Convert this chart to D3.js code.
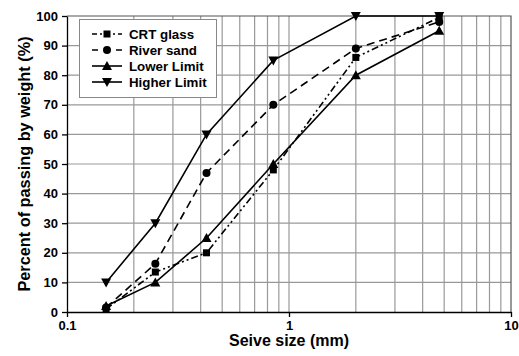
<!DOCTYPE html>
<html>
<head>
<meta charset="utf-8">
<script src="https://cdn.jsdelivr.net/npm/d3@7"></script>
<style>
  html, body { margin: 0; padding: 0; background: #fff; }
  svg { display: block; font-family: "Liberation Sans", Arial, sans-serif; }
</style>
</head>
<body>
<svg id="chart" width="519" height="356"></svg>
<script>
// Sieve sizes (mm) and cumulative percent passing
const sieveSizes = [0.15, 0.25, 0.425, 0.85, 2.0, 4.75];
const crtGlass    = [1, 13.5, 20, 48, 86, 99.5];
const riverSand   = [1.5, 16.3, 47, 70, 89, 98];
const lowerLimit  = [2, 10, 25, 50, 80, 95];
const higherLimit = [10, 30, 60, 85, 100, 100];

const seriesNames = ["CRT glass", "River sand", "Lower Limit", "Higher Limit"];
const xTickValues = [0.1, 1, 10];
const xTickLabels = ["0.1", "1", "10"];
const yTickValues = [0, 10, 20, 30, 40, 50, 60, 70, 80, 90, 100];

const series = [
  { name: seriesNames[0], values: crtGlass,    dash: "7,3,2,3,2,3", marker: "square" },
  { name: seriesNames[1], values: riverSand,   dash: "8,5",          marker: "circle" },
  { name: seriesNames[2], values: lowerLimit,  dash: null,           marker: "triUp" },
  { name: seriesNames[3], values: higherLimit, dash: null,           marker: "triDown" }
];

const svg = d3.select("#chart");
const margin = { left: 67, right: 8, top: 16, bottom: 44 };
const W = 519, H = 356;
const x = d3.scaleLog().domain([0.1, 10]).range([margin.left, W - margin.right]);
const y = d3.scaleLinear().domain([0, 100]).range([H - margin.bottom, margin.top]);

// minor vertical grid (log decades)
const minor = [];
for (const d of [0.1, 1]) for (let k = 2; k <= 9; k++) minor.push(d * k);
svg.append("g").selectAll("line").data(minor.concat([1])).join("line")
  .attr("x1", d => x(d)).attr("x2", d => x(d))
  .attr("y1", y(0)).attr("y2", y(100))
  .attr("stroke", "#999").attr("stroke-width", 1.2);

// horizontal grid
svg.append("g").selectAll("line").data(yTickValues.slice(1, -1)).join("line")
  .attr("x1", x(0.1)).attr("x2", x(10))
  .attr("y1", d => y(d)).attr("y2", d => y(d))
  .attr("stroke", "#999").attr("stroke-width", 1.2);

// plot frame: top & right
svg.append("path")
  .attr("d", `M${x(0.1)},${y(100)}H${x(10)}V${y(0)}`)
  .attr("fill", "none").attr("stroke", "#555").attr("stroke-width", 1.2);

// axes
const xAxis = d3.axisBottom(x).tickValues(xTickValues)
  .tickFormat((d, i) => xTickLabels[i]).tickSize(5).tickSizeOuter(0);
const gx = svg.append("g").attr("transform", `translate(0,${y(0)})`).call(xAxis);
const yAxis = d3.axisLeft(y).tickValues(yTickValues).tickSize(5).tickSizeOuter(0);
const gy = svg.append("g").attr("transform", `translate(${x(0.1)},0)`).call(yAxis);
[gx, gy].forEach(g => {
  g.selectAll("path, line").attr("stroke", "#000").attr("stroke-width", 1.3);
  g.selectAll("text").attr("fill", "#000").style("font-size", "13px")
    .style("font-weight", "bold").style("font-family", "'Liberation Sans', Arial, sans-serif");
});
gx.selectAll("text").attr("dy", "0.8em");
gy.selectAll("text").attr("dx", "-1px");

// axis titles
svg.append("text").attr("x", (x(0.1) + x(10)) / 2).attr("y", 346)
  .attr("text-anchor", "middle").style("font-size", "16px").style("font-weight", "bold")
  .text("Seive size (mm)");
svg.append("text").attr("transform", `translate(30,${(y(0) + y(100)) / 2}) rotate(-90)`)
  .attr("text-anchor", "middle").style("font-size", "16.3px").style("font-weight", "bold")
  .text("Percent of passing by weight (%)");

// marker drawing
function drawMarker(g, type, cx, cy) {
  if (type === "square") {
    g.append("rect").attr("x", cx - 3.5).attr("y", cy - 3.5).attr("width", 7).attr("height", 7).attr("fill", "#000");
  } else if (type === "circle") {
    g.append("circle").attr("cx", cx).attr("cy", cy).attr("r", 4).attr("fill", "#000");
  } else if (type === "triUp") {
    g.append("path").attr("d", `M${cx},${cy - 5}L${cx + 5},${cy + 4}L${cx - 5},${cy + 4}Z`).attr("fill", "#000");
  } else {
    g.append("path").attr("d", `M${cx},${cy + 5}L${cx + 5},${cy - 4}L${cx - 5},${cy - 4}Z`).attr("fill", "#000");
  }
}

const line = d3.line().x(d => x(d[0])).y(d => y(d[1]));
const plot = svg.append("g");
series.forEach(s => {
  const pts = sieveSizes.map((v, i) => [v, s.values[i]]);
  plot.append("path").attr("d", line(pts)).attr("fill", "none")
    .attr("stroke", "#000").attr("stroke-width", 1.6)
    .attr("stroke-dasharray", s.dash);
  const mg = plot.append("g");
  pts.forEach(p => drawMarker(mg, s.marker, x(p[0]), y(p[1])));
});

// legend
const lg = svg.append("g");
lg.append("rect").attr("x", 79.5).attr("y", 19.5).attr("width", 137).attr("height", 78)
  .attr("fill", "#fff").attr("stroke", "#888").attr("stroke-width", 1);
series.forEach((s, i) => {
  const cy = 34 + i * 16;
  lg.append("line").attr("x1", 92).attr("x2", 122).attr("y1", cy).attr("y2", cy)
    .attr("stroke", "#000").attr("stroke-width", 1.6)
    .attr("stroke-dasharray", s.dash ? (i === 0 ? "5,3,2,3" : "6,6") : null);
  drawMarker(lg, s.marker, 107, cy);
  lg.append("text").attr("x", 129).attr("y", cy).attr("dy", "0.35em")
    .style("font-size", "13.3px").style("font-weight", "bold").text(s.name);
});
</script>
</body>
</html>
